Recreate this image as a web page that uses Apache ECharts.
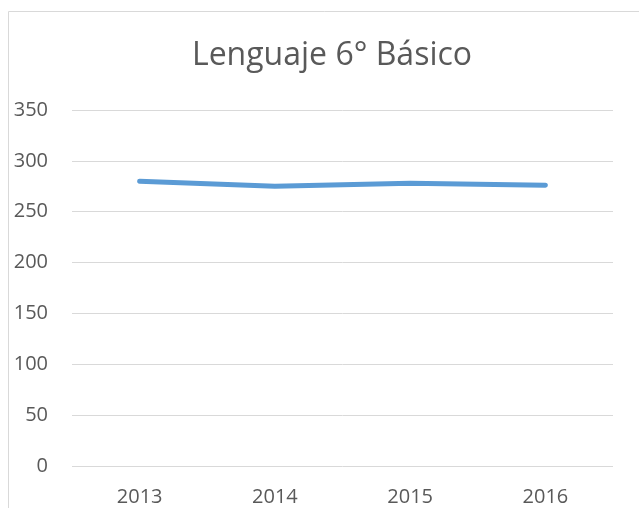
<!DOCTYPE html>
<html>
<head>
<meta charset="utf-8">
<script src="https://cdn.jsdelivr.net/npm/echarts@6/dist/echarts.min.js"></script>
<style>
  html, body { margin: 0; padding: 0; background: #fff; }
  #chart { width: 639px; height: 508px; }
</style>
</head>
<body>
<div id="chart"></div>
<script>
// datos del gráfico
const years = ["2013", "2014", "2015", "2016"];
const scores = [280, 275, 278, 276];
const yTicks = [0, 50, 100, 150, 200, 250, 300, 350];

const textColor = "#595959";
const font = "'Open Sans', 'Liberation Sans', sans-serif";

const chart = echarts.init(document.getElementById("chart"));
chart.setOption({
  animation: false,
  // marco del área del gráfico
  graphic: [{
    type: "rect",
    shape: { x: 8.5, y: 11.5, width: 700, height: 600 },
    style: { fill: "none", stroke: "#d9d9d9", lineWidth: 1 },
    silent: true
  }],
  title: {
    text: "Lenguaje 6° Básico",
    left: 327,
    top: 35,
    textAlign: "center",
    textStyle: { color: textColor, fontFamily: font, fontSize: 32, fontWeight: "normal" }
  },
  grid: { left: 72, right: 26, top: 110, bottom: 42 },
  xAxis: {
    type: "category",
    data: years,
    boundaryGap: true,
    axisLine: { show: false },
    axisTick: { show: false },
    axisLabel: { color: textColor, fontFamily: font, fontSize: 20, margin: 21 }
  },
  yAxis: {
    type: "value",
    min: yTicks[0],
    max: yTicks[yTicks.length - 1],
    interval: 50,
    axisLine: { show: false },
    axisTick: { show: false },
    splitLine: { lineStyle: { color: "#d9d9d9", width: 1 } },
    axisLabel: { color: textColor, fontFamily: font, fontSize: 20, margin: 24 }
  },
  series: [{
    type: "line",
    data: scores,
    symbol: "none",
    lineStyle: { color: "#5b9bd5", width: 5, cap: "round", join: "round" }
  }]
});
</script>
</body>
</html>
